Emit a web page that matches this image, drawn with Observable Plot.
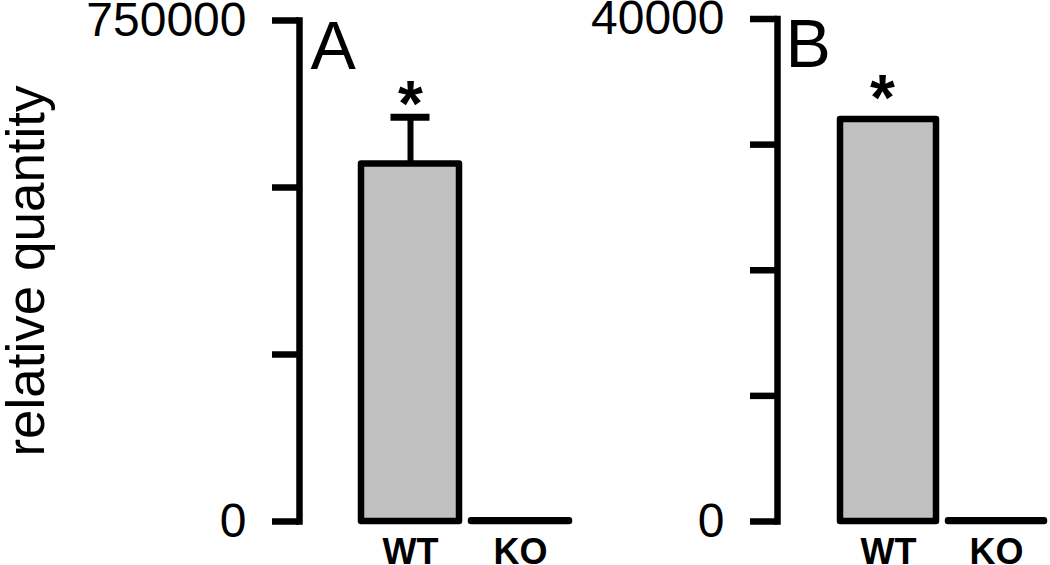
<!DOCTYPE html>
<html>
<head>
<meta charset="utf-8">
<script src="https://cdn.jsdelivr.net/npm/d3@7"></script>
<script src="https://cdn.jsdelivr.net/npm/@observablehq/plot@0.6"></script>
<style>
  html, body { margin: 0; padding: 0; background: #fff; }
  #chart { position: relative; width: 1050px; height: 565px; color: #000;
           font-family: "Liberation Sans", Arial, Helvetica, sans-serif; }
  #chart svg { position: absolute; top: 0; overflow: visible; }
</style>
</head>
<body>
<div id="chart"></div>
<script>
// ---- data ----
const categories = ["WT", "KO"];
const valuesA = [535000, 1000];      // panel A bar heights
const errorsA = [70000, 0];          // panel A upper error
const signifA = ["*", ""];
const valuesB = [32000, 50];         // panel B bar heights
const errorsB = [0, 0];
const signifB = ["*", ""];
const ticksA = [0, 250000, 500000, 750000];
const tickLabelsA = ["0", "", "", "750000"];
const ticksB = [0, 10000, 20000, 30000, 40000];
const tickLabelsB = ["0", "", "", "", "40000"];
const yTitle = "relative quantity";

const FONT = '"Liberation Sans", Arial, Helvetica, sans-serif';

function panel({values, errors, signif, ticks, tickLabels, yMax, letter, width, marginLeft, marginTop, xRange, yTitleText, starDx, starDy, letterDx}) {
  const data = categories.map((c, i) => ({cat: c, value: values[i], err: errors[i], sig: signif[i]}));
  const withErr = data.filter(d => d.err > 0);
  const marks = [
    Plot.barY(data, {x: "cat", y: "value", fill: "#c0c0c0", stroke: "#000", strokeWidth: 6.5,
      strokeLinejoin: "round", insetLeft: 6, insetRight: 6}),
    Plot.ruleX(withErr, {x: "cat", y1: "value", y2: d => d.value + d.err, stroke: "#000", strokeWidth: 6}),
    Plot.tickY(withErr, {x: "cat", y: d => d.value + d.err, stroke: "#000", strokeWidth: 7,
      insetLeft: 35.5, insetRight: 35.5}),
    Plot.text(data, {x: "cat", y: d => d.value + d.err, text: "sig", dx: starDx, dy: starDy,
      fontSize: 64, fontWeight: "bold", lineAnchor: "middle", fill: "#000"}),
    Plot.frame({anchor: "left", stroke: "#000", strokeWidth: 6.5, strokeLinecap: "square"}),
    Plot.axisY({ticks, tickSize: 27, tickPadding: 26, stroke: "#000", strokeWidth: 6.5,
      tickFormat: d => tickLabels[ticks.indexOf(d)], fontSize: 48, fill: "#000", label: null}),
    Plot.axisX({tickSize: 0, tickPadding: 17, fontSize: 36, fontWeight: "bold", fill: "#000", label: null}),
    Plot.text([letter], {text: d => d, frameAnchor: "top-left", dx: letterDx, textAnchor: "start",
      lineAnchor: "top", fontSize: 68, fill: "#000"})
  ];
  if (yTitleText) {
    marks.push(Plot.text([yTitleText], {text: d => d, frameAnchor: "left", rotate: -90,
      textAnchor: "middle", lineAnchor: "middle", dx: -272, fontSize: 53, fill: "#000"}));
  }
  return Plot.plot({
    width, height: 565,
    marginLeft, marginRight: 0, marginTop, marginBottom: 44,
    style: {fontFamily: FONT, background: "transparent", overflow: "visible"},
    x: {domain: categories, range: xRange, padding: 0},
    y: {domain: [0, yMax]},
    marks
  });
}

const svgA = panel({values: valuesA, errors: errorsA, signif: signifA, ticks: ticksA, tickLabels: tickLabelsA,
  yMax: 750000, letter: "A", width: 575, marginLeft: 299, marginTop: 20, xRange: [354, 575],
  yTitleText: yTitle, starDx: 0, starDy: -12, letterDx: 11});
const svgB = panel({values: valuesB, errors: errorsB, signif: signifB, ticks: ticksB, tickLabels: tickLabelsB,
  yMax: 40000, letter: "B", width: 475, marginLeft: 202, marginTop: 18.5, xRange: [258.25, 475.25],
  yTitleText: null, starDx: -6, starDy: -20, letterDx: 8});

svgA.style.left = "0px";
svgB.style.left = "575px";
const chart = document.getElementById("chart");
chart.appendChild(svgA);
chart.appendChild(svgB);
</script>
</body>
</html>
